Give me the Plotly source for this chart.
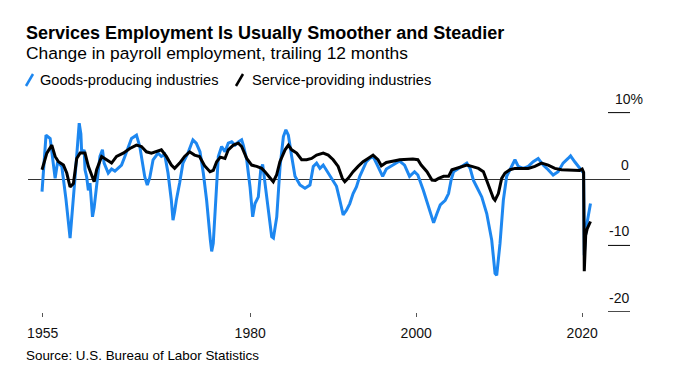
import plotly.graph_objects as go

# ---------------- data ----------------
goods_years = [1954.92, 1955.4, 1955.9, 1956.3, 1956.5, 1956.8, 1957.3, 1957.8, 1958.3, 1958.9,
               1959.4, 1959.6, 1959.7, 1960.0, 1960.1, 1960.3, 1960.5, 1960.7, 1961.0, 1961.2,
               1961.5, 1961.9, 1962.2, 1962.4, 1962.9, 1963.3, 1963.7, 1964.1, 1964.5, 1964.9,
               1965.3, 1965.7, 1966.3, 1966.7, 1967.3, 1967.6, 1967.9, 1968.3, 1968.9, 1969.3,
               1969.7, 1970.1, 1970.5, 1970.7, 1970.9, 1971.1, 1971.5, 1971.9, 1972.5, 1973.1,
               1973.5, 1973.95, 1974.35, 1974.75, 1975.2, 1975.36, 1975.55, 1975.76, 1976.16, 1976.56,
               1976.96, 1977.36, 1977.77, 1978.17, 1978.57, 1978.97, 1979.17, 1979.58, 1979.98, 1980.3,
               1980.58, 1980.98, 1981.27, 1981.5, 1981.78, 1982.2, 1982.59, 1982.8, 1983.2, 1983.6,
               1984.0, 1984.3, 1984.6, 1985.0, 1985.4, 1986.0, 1986.6, 1987.2, 1987.6, 1988.0,
               1988.4, 1988.8, 1989.4, 1990.0, 1990.4, 1990.8, 1991.2, 1991.6, 1992.0, 1992.4,
               1992.8, 1993.2, 1993.6, 1994.0, 1994.4, 1994.8, 1995.2, 1995.6, 1995.96, 1996.4,
               1997.0, 1997.6, 1998.0, 1998.6, 1999.2, 1999.8, 2000.2, 2000.86, 2001.5, 2002.1,
               2002.5, 2002.9, 2003.5, 2003.9, 2004.2, 2004.5, 2005.1, 2005.7, 2006.1, 2006.5,
               2006.9, 2007.3, 2007.9, 2008.5, 2009.1, 2009.5, 2009.7, 2010.1, 2010.5, 2010.9,
               2011.5, 2011.9, 2012.3, 2012.9, 2013.5, 2014.1, 2014.7, 2015.3, 2015.9, 2016.5,
               2017.1, 2017.7, 2018.3, 2018.6, 2019.1, 2019.7, 2020.17, 2020.25, 2020.4, 2020.6,
               2020.8, 2021.0]
goods_values = [-1.9, 6.6, 6.1, 1.9, 0.1, 2.6, 1.9, -3.0, -8.9, 0.3,
                8.4, 6.8, 3.9, 4.4, 1.4, 0.3, -1.7, -0.6, -5.7, -4.3,
                -0.6, 3.4, 4.4, 2.4, 0.9, 1.5, 1.2, 1.7, 2.1, 3.4,
                4.9, 6.1, 6.6, 4.9, 0.3, -0.9, 0.2, 2.9, 3.9, 3.4,
                3.7, 0.9, -3.2, -6.2, -4.9, -3.2, -0.6, 2.4, 3.9, 5.9,
                5.4, 4.1, 0.9, -3.2, -9.2, -10.9, -9.7, -4.7, 3.4, 4.9,
                4.1, 5.4, 5.6, 5.1, 5.6, 5.9, 5.1, 2.9, -1.2, -5.7,
                -3.7, -2.7, 1.4, 2.2, -0.7, -4.7, -8.7, -8.9, -5.7, 1.9,
                6.4, 7.4, 6.6, 3.4, 0.4, -0.9, -1.4, -0.9, 1.9, 2.4,
                1.6, 2.1, 0.9, -0.1, -1.1, -3.2, -5.4, -4.7, -3.7, -2.2,
                -1.2, 0.4, 1.6, 2.6, 3.1, 3.4, 2.4, 1.4, 0.4, 1.5,
                2.0, 2.4, 2.7, 2.1, 0.4, 1.1, 0.6, -1.7, -4.2, -6.6,
                -5.2, -3.9, -3.2, -2.2, -0.2, 1.1, 1.6, 2.1, 2.4, 1.6,
                -0.2, -1.2, -2.7, -5.2, -9.2, -14.2, -14.5, -9.7, -3.2, 0.4,
                1.9, 2.9, 1.9, 1.6, 1.9, 2.6, 3.1, 2.1, 1.4, 0.6,
                1.1, 2.4, 3.1, 3.5, 2.6, 1.6, 0.9, -11.5, -8.5, -6.5,
                -5.0, -3.7]

services_years = [1954.92, 1955.5, 1956.1, 1956.5, 1956.9, 1957.5, 1957.9, 1958.3, 1958.7, 1959.1,
                  1959.5, 1960.1, 1960.5, 1960.9, 1961.2, 1961.5, 1962.1, 1962.7, 1963.3, 1963.9,
                  1964.7, 1965.5, 1966.3, 1966.9, 1967.5, 1968.1, 1968.7, 1969.3, 1969.9, 1970.5,
                  1970.9, 1971.5, 1972.1, 1972.7, 1973.3, 1973.9, 1974.5, 1975.16, 1975.56, 1975.96,
                  1976.4, 1976.96, 1977.36, 1977.97, 1978.57, 1978.97, 1979.58, 1980.18, 1980.78, 1981.38,
                  1981.78, 1982.38, 1982.78, 1983.18, 1983.58, 1984.2, 1984.6, 1985.0, 1985.6, 1986.2,
                  1986.8, 1987.4, 1988.0, 1988.8, 1989.4, 1990.0, 1990.6, 1991.1, 1991.4, 1991.8,
                  1992.4, 1993.0, 1993.6, 1994.2, 1994.8, 1995.4, 1995.8, 1996.4, 1997.0, 1997.6,
                  1998.0, 1998.8, 1999.6, 2000.2, 2000.6, 2001.3, 2001.9, 2002.3, 2002.7, 2003.3,
                  2003.9, 2004.3, 2004.9, 2005.5, 2006.1, 2006.7, 2007.5, 2008.1, 2008.5, 2008.9,
                  2009.3, 2009.5, 2009.9, 2010.3, 2010.7, 2011.3, 2011.9, 2012.7, 2013.5, 2014.3,
                  2015.1, 2015.9, 2016.7, 2017.5, 2018.3, 2019.1, 2019.7, 2020.0, 2020.17, 2020.25,
                  2020.33, 2020.42, 2020.6, 2020.8, 2021.0]
services_values = [1.4, 3.9, 5.1, 3.4, 2.6, 2.1, 0.9, -1.2, -0.7, 3.1,
                   3.9, 3.9, 1.9, 0.7, -0.4, 1.4, 3.4, 2.9, 2.4, 3.4,
                   3.9, 4.6, 5.1, 4.9, 4.1, 3.9, 4.1, 4.4, 3.4, 2.1,
                   1.6, 2.4, 3.4, 4.1, 3.6, 3.4, 2.0, 1.1, 1.3, 2.6,
                   3.3, 3.1, 4.4, 5.1, 5.4, 4.9, 3.1, 2.1, 1.9, 1.6,
                   1.1, 0.1, -0.4, 0.6, 2.6, 4.4, 5.1, 4.4, 3.9, 2.9,
                   2.9, 3.1, 3.6, 3.9, 3.6, 2.9, 1.9, 0.1, -0.4, 0.1,
                   1.1, 1.9, 2.6, 3.1, 3.6, 2.9, 2.0, 2.5, 2.6, 2.8,
                   2.9, 3.0, 3.0, 2.9, 2.1, 1.1, -0.15, -0.2, 0.1, 0.4,
                   0.4, 1.4, 1.6, 1.9, 2.1, 1.9, 1.6, 1.1, -0.15, -1.7,
                   -2.9, -3.2, -2.2, 0.1, 0.9, 1.4, 1.6, 1.6, 1.6, 1.9,
                   2.4, 2.1, 1.6, 1.4, 1.4, 1.3, 1.3, 1.5, 1.0, -13.9,
                   -11.5, -8.5, -7.5, -6.8, -6.4]

x_tick_values = [1955, 1980, 2000, 2020]
x_tick_labels = ["1955", "1980", "2000", "2020"]
y_tick_values = [10, 0, -10, -20]
y_tick_labels = ["10%", "0", "-10", "-20"]

# ---------------- layout geometry ----------------
# The page body adds an 8px offset; positions below are given in window pixels.
OFF = 8
W, H = 674, 379
PLOT_LEFT, PLOT_RIGHT, PLOT_TOP, PLOT_BOTTOM = 28, 630, 100, 312
L = PLOT_LEFT - OFF
T = PLOT_TOP - OFF
R = W - (PLOT_RIGHT - OFF)
B = H - (PLOT_BOTTOM - OFF)
PW, PH = W - L - R, H - T - B
FONT = "Liberation Sans, Arial, sans-serif"
BLUE = "#1d87f0"


def px(x):
    return (x - PLOT_LEFT) / PW


def py(y):
    return (PLOT_BOTTOM - y) / PH


fig = go.Figure()
fig.add_trace(go.Scatter(x=goods_years, y=goods_values, mode="lines",
                         line=dict(color=BLUE, width=3), name="Goods-producing industries",
                         showlegend=False))
fig.add_trace(go.Scatter(x=services_years, y=services_values, mode="lines",
                         line=dict(color="#000000", width=3), name="Service-providing industries",
                         showlegend=False))

shapes = []
annotations = []
# right-side short gridline ticks and labels
for v, lab in zip(y_tick_values, y_tick_labels):
    if v != 0:
        shapes.append(dict(type="line", xref="paper", yref="y", x0=px(608), x1=px(630),
                           y0=v, y1=v, line=dict(color="#000", width=1)))
    if lab.endswith("%"):
        annotations.append(dict(xref="paper", yref="y", x=px(614), y=v, text=lab, showarrow=False,
                                xanchor="left", yanchor="middle", yshift=14, borderpad=0,
                                font=dict(family=FONT, size=14, color="#111")))
    else:
        annotations.append(dict(xref="paper", yref="y", x=1.0, y=v, text=lab, showarrow=False,
                                xanchor="right", yanchor="middle", yshift=14, borderpad=0,
                                font=dict(family=FONT, size=14, color="#111")))

# title, subtitle, legend, source
annotations += [
    dict(xref="paper", yref="paper", x=px(24), y=py(33), xanchor="left", yanchor="middle",
         text="<b>Services Employment Is Usually Smoother and Steadier</b>", showarrow=False,
         font=dict(family=FONT, size=18, color="#000")),
    dict(xref="paper", yref="paper", x=px(24), y=py(53), xanchor="left", yanchor="middle",
         text="Change in payroll employment, trailing 12 months", showarrow=False,
         font=dict(family=FONT, size=17.4, color="#000")),
    dict(xref="paper", yref="paper", x=px(38), y=py(80), xanchor="left", yanchor="middle",
         text="Goods-producing industries", showarrow=False,
         font=dict(family=FONT, size=14.6, color="#000")),
    dict(xref="paper", yref="paper", x=px(250), y=py(80), xanchor="left", yanchor="middle",
         text="Service-providing industries", showarrow=False,
         font=dict(family=FONT, size=14.6, color="#000")),
    dict(xref="paper", yref="paper", x=px(24), y=py(355), xanchor="left", yanchor="middle",
         text="Source: U.S. Bureau of Labor Statistics", showarrow=False,
         font=dict(family=FONT, size=13.4, color="#000")),
]
shapes += [
    dict(type="line", xref="paper", yref="paper", x0=px(26), x1=px(33), y0=py(86), y1=py(74),
         line=dict(color=BLUE, width=2.5)),
    dict(type="line", xref="paper", yref="paper", x0=px(236), x1=px(243), y0=py(86), y1=py(74),
         line=dict(color="#000", width=2.5)),
]

fig.update_layout(
    width=W, height=H,
    margin=dict(l=L, r=R, t=T, b=B, pad=0),
    paper_bgcolor="white", plot_bgcolor="white",
    showlegend=False,
    shapes=shapes, annotations=annotations,
    xaxis=dict(range=[1953.23, 2025.76], tickvals=x_tick_values, ticktext=x_tick_labels,
               ticks="outside", ticklen=4, tickwidth=1, tickcolor="#555",
               showgrid=False, zeroline=False, showline=False,
               tickfont=dict(family=FONT, size=14, color="#111"), ticklabelstandoff=4),
    yaxis=dict(range=[-20.03, 11.9], showticklabels=False, showgrid=False,
               zeroline=True, zerolinecolor="#333", zerolinewidth=1, showline=False, ticks=""),
)

fig.write_html("out.html")
